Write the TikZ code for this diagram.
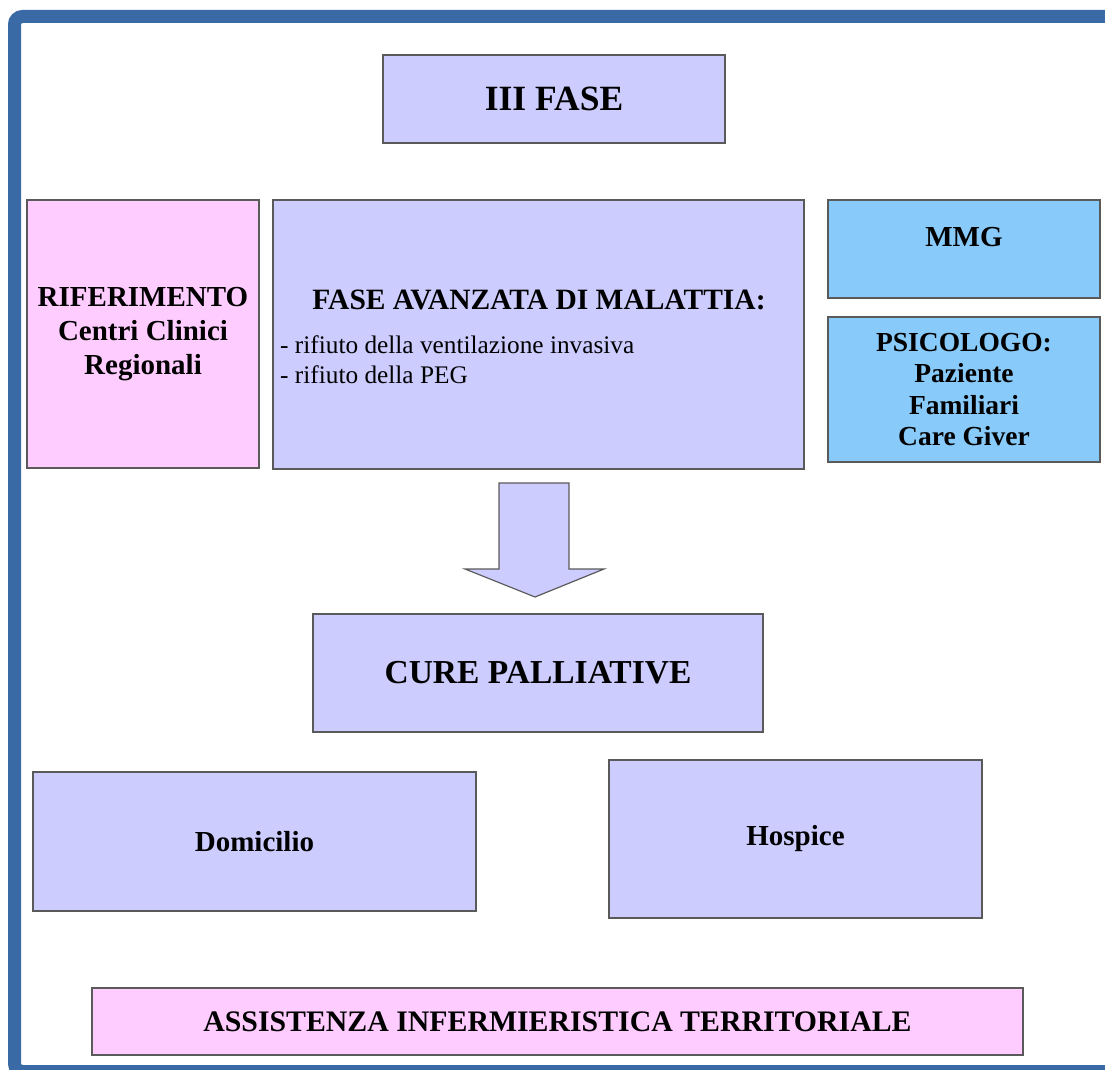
\documentclass[tikz,border=0pt]{standalone}
\usepackage{fontspec}
\setmainfont{Liberation Serif}
\usepackage{xcolor}
\usetikzlibrary{positioning}
\definecolor{lavbox}{HTML}{CCCCFF}
\definecolor{pinkbox}{HTML}{FFCCFF}
\definecolor{skybox}{HTML}{88CAF9}
\definecolor{boxline}{HTML}{5A5A5A}
\definecolor{frameblue}{HTML}{3A6AA6}

\begin{document}
\begin{tikzpicture}[x=1pt,y=-1pt,
    box/.style={draw=boxline, line width=1.3pt, inner sep=0pt, align=center},
    title/.style={font=\fontsize{29}{33}\selectfont\bfseries, align=center},
    plain/.style={font=\fontsize{25.3}{30}\selectfont, align=left}]
  \useasboundingbox (0,0) rectangle (1105,1070);
  \clip (0,0) rectangle (1105,1070);

  % frame
  \draw[frameblue, line width=13pt, rounded corners=8pt]
    (1130,16.5) -- (14.5,16.5) -- (14.5,1071.5) -- (1130,1071.5);

  % top
  \node[box, fill=lavbox, minimum width=342, minimum height=88, title,
        font=\fontsize{35.5}{40}\selectfont\bfseries] (fase) at (554,99) {III FASE};

  % middle row
  \node[box, fill=pinkbox, minimum width=232, minimum height=268, title,
        font=\fontsize{29}{34}\selectfont\bfseries] (rif) at (143,334)
    {RIFERIMENTO\\Centri Clinici\\Regionali};
  \node[box, fill=lavbox, minimum width=531, minimum height=269] (avanz) at (538.5,334.5) {};
  \node[title, font=\fontsize{29.5}{33}\selectfont\bfseries] (avanzT) at (539,300) {FASE AVANZATA DI MALATTIA:};
  \node[plain, anchor=west, inner sep=0pt] (avanzL) at (280,360)
    {- rifiuto della ventilazione invasiva\\- rifiuto della PEG};

  \node[box, fill=skybox, minimum width=272, minimum height=98] (mmg) at (964,249) {};
  \node[title] (mmgT) at (964,237) {MMG};
  \node[box, fill=skybox, minimum width=272, minimum height=145, title,
        font=\fontsize{27.5}{31.5}\selectfont\bfseries] (psi) at (964,389.5)
    {PSICOLOGO:\\Paziente\\Familiari\\Care Giver};

  % arrow
  \coordinate (a1) at (499,483);
  \coordinate (a2) at (569,483);
  \coordinate (a3) at (569,569);
  \coordinate (a4) at (604,569);
  \coordinate (tip) at (535,597);
  \coordinate (a5) at (465,569);
  \coordinate (a6) at (499,569);
  \draw[boxline, line width=1.2pt, fill=lavbox, line join=miter]
    (a1) -- (a2) -- (a3) -- (a4) -- (tip) -- (a5) -- (a6) -- cycle;

  % lower part
  \node[box, fill=lavbox, minimum width=450, minimum height=118, title,
        font=\fontsize{33.5}{38}\selectfont\bfseries] (cure) at (538,673) {CURE PALLIATIVE};
  \node[box, fill=lavbox, minimum width=443, minimum height=139, title] (dom) at (254.5,841.5) {Domicilio};
  \node[box, fill=lavbox, minimum width=373, minimum height=158, title] (hosp) at (795.5,839) {Hospice};
  \node[box, fill=pinkbox, minimum width=931, minimum height=67, title,
        font=\fontsize{29.8}{34}\selectfont\bfseries] (assist) at (557.5,1021.5)
    {ASSISTENZA INFERMIERISTICA TERRITORIALE};
\end{tikzpicture}
\end{document}
